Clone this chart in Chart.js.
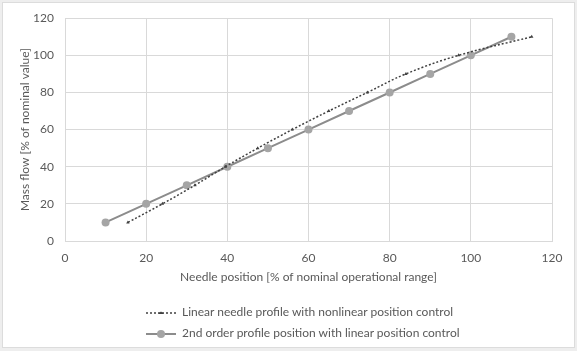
<!DOCTYPE html>
<html>
<head>
<meta charset="utf-8">
<script src="https://cdn.jsdelivr.net/npm/chart.js@4"></script>
<style>
  body { margin: 0; background: #eeeeee; }
  #wrap { position: absolute; left: 2px; top: 2px; width: 571px; height: 344px; background: #fff; border: 1px solid #dcdcdc; }
  #c { position: absolute; left: -3px; top: -3px; }
  .leg { position: absolute; left: 142px; font: 12px Lato, sans-serif; color: #595959; height: 14px; line-height: 14px; white-space: nowrap; }
  .leg svg { vertical-align: middle; margin-right: 5px; }
</style>
</head>
<body>
<div id="wrap">
  <canvas id="c" width="577" height="351"></canvas>
  <div class="leg" style="top:302px"><svg width="32" height="8"><line x1="1" y1="4" x2="31" y2="4" stroke="#404040" stroke-width="1.5" stroke-dasharray="2,2"/><path d="M13 5 L16 2.5 L19 5 Z" fill="#404040"/></svg>Linear needle profile with nonlinear position control</div>
  <div class="leg" style="top:323px"><svg width="32" height="10"><line x1="1" y1="5" x2="31" y2="5" stroke="#8c8c8c" stroke-width="2"/><circle cx="16" cy="5" r="4" fill="#a5a5a5"/></svg>2nd order profile position with linear position control</div>
</div>
<script>
// dotted curve
const linearX = [15.5, 24, 32, 39.5, 47.5, 56, 65, 74.5, 84, 97, 115];
const linearY = [10, 20, 30, 40, 50, 60, 70, 80, 90, 100, 110];
// solid line with round markers
const secondX = [10, 20, 30, 40, 50, 60, 70, 80, 90, 100, 110];
const secondY = [10, 20, 30, 40, 50, 60, 70, 80, 90, 100, 110];

const xTitle = 'Needle position [% of nominal operational range]';
const yTitle = 'Mass flow [% of nominal value]';

const font = { family: 'Lato, sans-serif', size: 12 };
const grid = { color: '#d9d9d9', drawTicks: false };

new Chart(document.querySelector('#c'), {
  type: 'scatter',
  data: {
    datasets: [
      {
        label: 'Linear needle profile with nonlinear position control',
        data: linearX.map((x, i) => ({ x: x, y: linearY[i] })),
        showLine: true,
        tension: 0.4,
        borderColor: '#404040',
        borderWidth: 1.5,
        borderDash: [2, 2],
        pointStyle: 'triangle',
        pointRadius: 2,
        pointBackgroundColor: '#404040',
        pointBorderWidth: 0
      },
      {
        label: '2nd order profile position with linear position control',
        data: secondX.map((x, i) => ({ x: x, y: secondY[i] })),
        showLine: true,
        borderColor: '#8c8c8c',
        borderWidth: 2,
        pointRadius: 4,
        pointBackgroundColor: '#a5a5a5',
        pointBorderWidth: 0
      }
    ]
  },
  options: {
    responsive: false,
    animation: false,
    layout: { padding: { left: 14, top: 16, right: 25, bottom: 63 } },
    plugins: { legend: { display: false }, tooltip: { enabled: false } },
    scales: {
      x: {
        min: 0, max: 120,
        grid: grid,
        border: { color: '#d9d9d9' },
        ticks: { stepSize: 20, padding: 10, color: '#595959', font: font },
        title: { display: true, text: xTitle, color: '#595959', font: font },
        afterFit: s => { s.height = 47; }
      },
      y: {
        min: 0, max: 120,
        grid: grid,
        border: { color: '#d9d9d9' },
        ticks: { stepSize: 20, padding: 11, color: '#595959', font: font },
        title: { display: true, text: yTitle, color: '#595959', font: font },
        afterFit: s => { s.width = 51; }
      }
    }
  }
});
</script>
</body>
</html>
